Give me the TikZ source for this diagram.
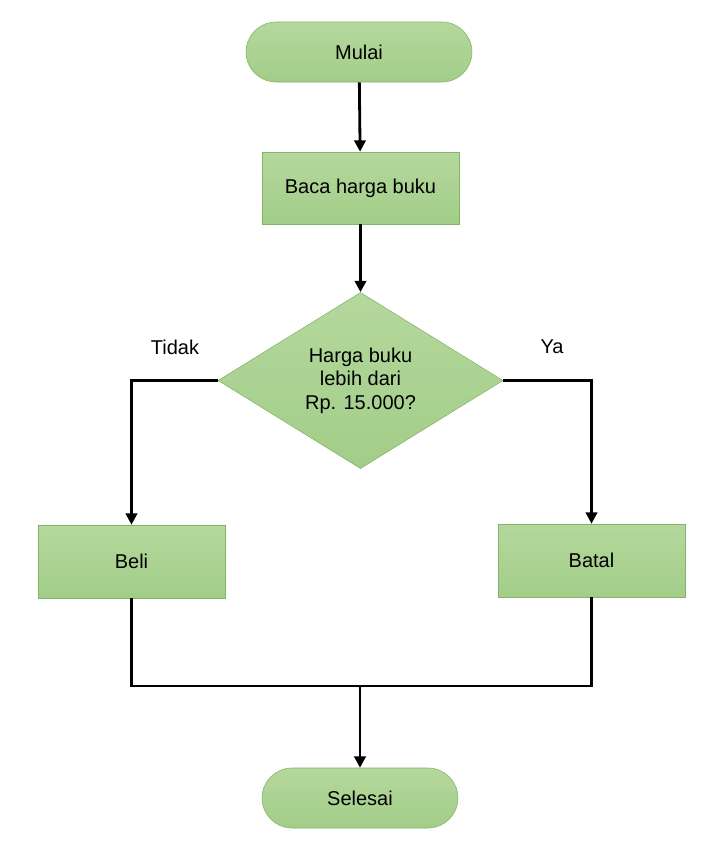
\documentclass[tikz,border=0pt]{standalone}
\usepackage{fontspec}
\setmainfont{Liberation Sans}
\usepackage{xcolor}
\usepackage{tikz}
\usetikzlibrary{shapes, shapes.geometric, shapes.misc, arrows.meta, positioning}
\definecolor{hijauAtas}{HTML}{B5D89D}
\definecolor{hijauBawah}{HTML}{A2CD88}
\definecolor{hijauGaris}{HTML}{82B366}

\begin{document}
\begin{tikzpicture}
  [
    x=0.75pt, y=-0.75pt,
    font=\fontsize{15}{17.5}\selectfont,
    Terminal/.style={rounded rectangle, draw=hijauGaris, top color=hijauAtas, bottom color=hijauBawah, thin, inner sep=0pt},
    Proses/.style={rectangle, draw=hijauGaris, top color=hijauAtas, bottom color=hijauBawah, thin, inner sep=0pt},
    Keputusan/.style={diamond, draw=hijauGaris, top color=hijauAtas, bottom color=hijauBawah, thin, inner sep=0pt, align=center},
    Panah/.style={-{Triangle[length=8.5pt, width=8.5pt]}, draw, line width=2.1pt},
    Garis/.style={draw, line width=2.1pt}
  ]
  \useasboundingbox (0, 0) rectangle (717, 846);
  % Nodes
  \node[Terminal, minimum width=226*0.75pt, minimum height=60*0.75pt] (mulai) at(359, 52) {Mulai};
  \node[Proses, minimum width=197*0.75pt, minimum height=72*0.75pt] (baca) at(360.5, 188) {Baca harga buku};
  \node[Keputusan, minimum width=285*0.75pt, minimum height=175*0.75pt] (cek) at(360.5, 380.5) {Harga buku\\lebih dari\\Rp. 15.000?};
  \node[Proses, minimum width=187*0.75pt, minimum height=73*0.75pt] (beli) at(131.5, 561.5) {Beli};
  \node[Proses, minimum width=187*0.75pt, minimum height=73*0.75pt] (batal) at(591.5, 560.5) {Batal};
  \node[Terminal, minimum width=196*0.75pt, minimum height=60*0.75pt] (selesai) at(360, 798) {Selesai};
  \node (tidak) at(175, 347) {Tidak};
  \node (ya) at(552, 347) {Ya};
  \coordinate (gabung) at(360, 686);
  % Lines
  \path [Panah] (mulai) -- (baca);
  \path [Panah] (baca) -- (cek);
  \path [Panah] (cek.west) -| (beli);
  \path [Panah] (cek.east) -| (batal);
  \path [Garis] (beli) |- (gabung);
  \path [Garis] (batal) |- (gabung);
  \path [Panah] (gabung) -- (selesai);
\end{tikzpicture}
\end{document}
